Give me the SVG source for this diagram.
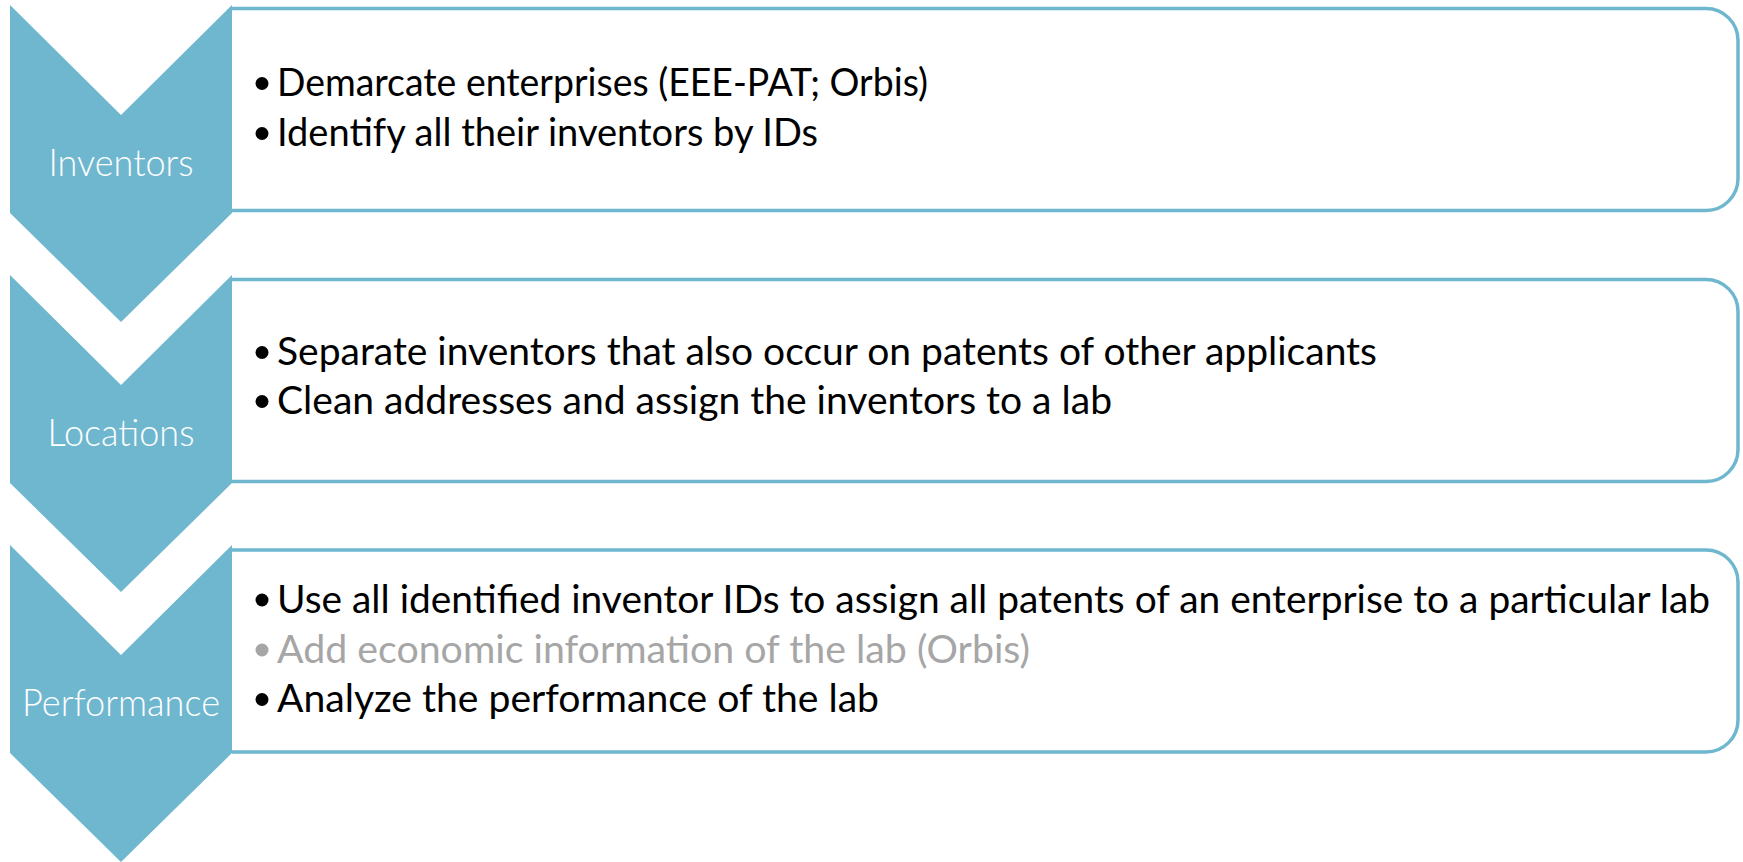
<svg xmlns="http://www.w3.org/2000/svg" width="1743" height="862" viewBox="0 0 1743 862">
<defs>
<style>
.box{fill:#ffffff;stroke:#6fb7cf;stroke-width:3.5}
.chev{fill:#6fb7cf}
.lbl{font-family:Lato,"Open Sans",sans-serif;font-size:37px;fill:#ffffff;text-anchor:middle;font-weight:300}
.item{font-family:Lato,"Open Sans",sans-serif;font-size:38px;fill:#000000}
.grey{fill:#a6a6a6}
.dot{fill:#000000}
.dotg{fill:#a6a6a6}
</style>
</defs>
<rect width="1743" height="862" fill="#ffffff"/>
<g id="step-inventors">
<path class="box" d="M232,8.5 H1706 A32,32 0 0 1 1738,40.5 V178.5 A32,32 0 0 1 1706,210.5 H232"/>
<polygon class="chev" points="10,5 121,115 232,5 232,213 121,322 10,213"/>
<text class="lbl" x="121" y="176" textLength="145" lengthAdjust="spacingAndGlyphs">Inventors</text>
<circle class="dot" cx="262" cy="83.5" r="6.5"/>
<text class="item" x="277" y="96" textLength="651" lengthAdjust="spacingAndGlyphs">Demarcate enterprises (EEE-PAT; Orbis)</text>
<circle class="dot" cx="262" cy="133.5" r="6.5"/>
<text class="item" x="277" y="146" textLength="541" lengthAdjust="spacingAndGlyphs">Identify all their inventors by IDs</text>
</g>
<g id="step-locations">
<path class="box" d="M232,279.5 H1706 A32,32 0 0 1 1738,311.5 V449.5 A32,32 0 0 1 1706,481.5 H232"/>
<polygon class="chev" points="10,275 121,385 232,275 232,483 121,592 10,483"/>
<text class="lbl" x="121" y="446" textLength="147" lengthAdjust="spacingAndGlyphs">Locations</text>
<circle class="dot" cx="262" cy="352.5" r="6.5"/>
<text class="item" x="277" y="365" textLength="1100" lengthAdjust="spacingAndGlyphs">Separate inventors that also occur on patents of other applicants</text>
<circle class="dot" cx="262" cy="401.5" r="6.5"/>
<text class="item" x="277" y="414" textLength="835" lengthAdjust="spacingAndGlyphs">Clean addresses and assign the inventors to a lab</text>
</g>
<g id="step-performance">
<path class="box" d="M232,550 H1706 A32,32 0 0 1 1738,582 V720 A32,32 0 0 1 1706,752 H232"/>
<polygon class="chev" points="10,545 121,655 232,545 232,753 121,862 10,753"/>
<text class="lbl" x="121" y="716" textLength="198" lengthAdjust="spacingAndGlyphs">Performance</text>
<circle class="dot" cx="262" cy="600" r="6.5"/>
<text class="item" x="277" y="612.5" textLength="1433" lengthAdjust="spacingAndGlyphs">Use all identified inventor IDs to assign all patents of an enterprise to a particular lab</text>
<circle class="dotg" cx="262" cy="650" r="6.5"/>
<text class="item grey" x="277" y="662.5" textLength="753" lengthAdjust="spacingAndGlyphs">Add economic information of the lab (Orbis)</text>
<circle class="dot" cx="262" cy="699.5" r="6.5"/>
<text class="item" x="277" y="712" textLength="602" lengthAdjust="spacingAndGlyphs">Analyze the performance of the lab</text>
</g>
<g id="connectors"></g>
</svg>
